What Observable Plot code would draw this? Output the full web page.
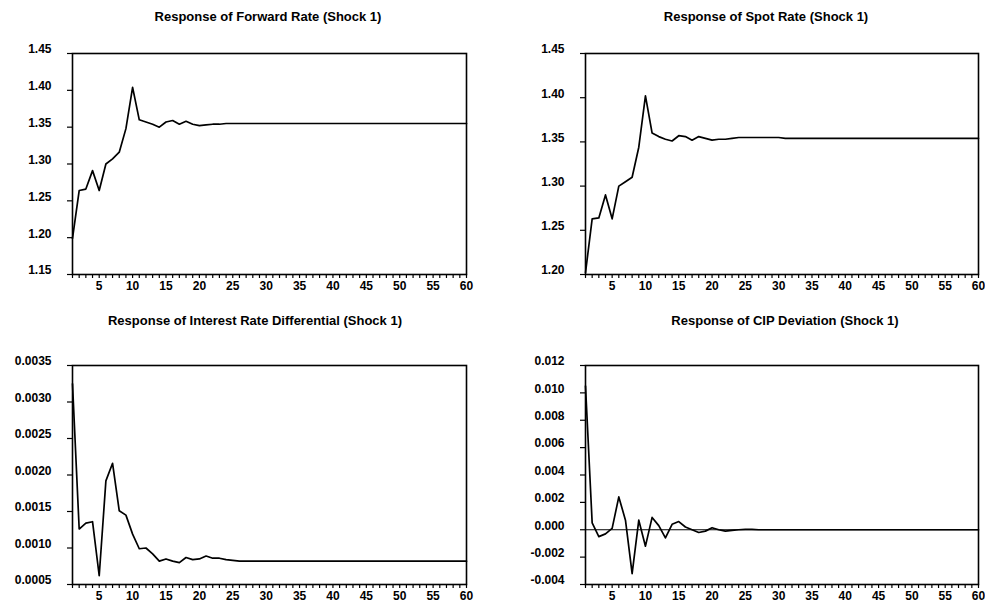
<!DOCTYPE html>
<html>
<head>
<meta charset="utf-8">
<script src="https://cdn.jsdelivr.net/npm/d3@7"></script>
<script src="https://cdn.jsdelivr.net/npm/@observablehq/plot@0.6"></script>
<style>
  html, body { margin: 0; padding: 0; background: #fff; }
  #root { position: relative; width: 985px; height: 602px; overflow: hidden; background: #fff; }
  .panel { position: absolute; }
  .title { position: absolute; width: 400px; text-align: center; font-family: "Liberation Sans", Arial, sans-serif; font-size: 13px; font-weight: bold; line-height: 16px; color: #000; white-space: nowrap; }
</style>
</head>
<body>
<div id="root"></div>
<script>
// ---- data ----
const titles = [
  "Response of Forward Rate (Shock 1)",
  "Response of Spot Rate (Shock 1)",
  "Response of Interest Rate Differential (Shock 1)",
  "Response of CIP Deviation (Shock 1)"
];

const xTickLabels = [5, 10, 15, 20, 25, 30, 35, 40, 45, 50, 55, 60];

const forwardRate = [
  1.199, 1.264, 1.266, 1.291, 1.264, 1.300, 1.307, 1.316, 1.348, 1.404,
  1.360, 1.357, 1.354, 1.350, 1.357, 1.359, 1.354, 1.358, 1.354, 1.352,
  1.353, 1.354, 1.354, 1.355, 1.355, 1.355, 1.355, 1.355, 1.355, 1.355,
  1.355, 1.355, 1.355, 1.355, 1.355, 1.355, 1.355, 1.355, 1.355, 1.355,
  1.355, 1.355, 1.355, 1.355, 1.355, 1.355, 1.355, 1.355, 1.355, 1.355,
  1.355, 1.355, 1.355, 1.355, 1.355, 1.355, 1.355, 1.355, 1.355, 1.355
];
const spotRate = [
  1.202, 1.263, 1.264, 1.290, 1.263, 1.300, 1.305, 1.310, 1.344, 1.402,
  1.360, 1.356, 1.353, 1.351, 1.357, 1.356, 1.352, 1.356, 1.354, 1.352,
  1.353, 1.353, 1.354, 1.355, 1.355, 1.355, 1.355, 1.355, 1.355, 1.355,
  1.354, 1.354, 1.354, 1.354, 1.354, 1.354, 1.354, 1.354, 1.354, 1.354,
  1.354, 1.354, 1.354, 1.354, 1.354, 1.354, 1.354, 1.354, 1.354, 1.354,
  1.354, 1.354, 1.354, 1.354, 1.354, 1.354, 1.354, 1.354, 1.354, 1.354
];
const interestDiff = [
  0.00325, 0.00126, 0.00134, 0.00136, 0.00062, 0.00192, 0.00216, 0.00151, 0.00145, 0.00119,
  0.00099, 0.00100, 0.00092, 0.00082, 0.00085, 0.00082, 0.00080, 0.00087, 0.00084, 0.00085,
  0.00089, 0.00086, 0.00086, 0.00084, 0.00083, 0.00082, 0.00082, 0.00082, 0.00082, 0.00082,
  0.00082, 0.00082, 0.00082, 0.00082, 0.00082, 0.00082, 0.00082, 0.00082, 0.00082, 0.00082,
  0.00082, 0.00082, 0.00082, 0.00082, 0.00082, 0.00082, 0.00082, 0.00082, 0.00082, 0.00082,
  0.00082, 0.00082, 0.00082, 0.00082, 0.00082, 0.00082, 0.00082, 0.00082, 0.00082, 0.00082
];
const cipDeviation = [
  0.0105, 0.0005, -0.0005, -0.0003, 0.0001, 0.0024, 0.0007, -0.0032, 0.0007, -0.0012,
  0.0009, 0.0003, -0.0006, 0.0004, 0.0006, 0.0002, 0.0000, -0.0002, -0.0001, 0.00015,
  0.0000, -0.0001, -0.00005, 0.0000, 0.00003, 0.00003, 0.0000, 0.0000, 0.0000, 0.0000,
  0.0000, 0.0000, 0.0000, 0.0000, 0.0000, 0.0000, 0.0000, 0.0000, 0.0000, 0.0000,
  0.0000, 0.0000, 0.0000, 0.0000, 0.0000, 0.0000, 0.0000, 0.0000, 0.0000, 0.0000,
  0.0000, 0.0000, 0.0000, 0.0000, 0.0000, 0.0000, 0.0000, 0.0000, 0.0000, 0.0000
];

const yTicksForward = [1.15, 1.20, 1.25, 1.30, 1.35, 1.40, 1.45];
const yTicksSpot = [1.20, 1.25, 1.30, 1.35, 1.40, 1.45];
const yTicksDiff = [0.0005, 0.0010, 0.0015, 0.0020, 0.0025, 0.0030, 0.0035];
const yTicksCip = [-0.004, -0.002, 0.000, 0.002, 0.004, 0.006, 0.008, 0.010, 0.012];

// ---- drawing ----
const root = document.getElementById("root");
const allX = d3.range(1, 61);

function fmt(spec) {
  const f = d3.format(spec);
  return v => f(v).replace("\u2212", "-");
}

function panel(cfg) {
  const data = cfg.values.map((v, i) => ({h: i + 1, v}));
  const svg = Plot.plot({
    width: cfg.w, height: cfg.h,
    marginLeft: cfg.ml, marginRight: cfg.mr, marginTop: cfg.mt, marginBottom: cfg.mb,
    x: {domain: [1, 60]},
    y: {domain: [cfg.yTicks[0], cfg.yTicks[cfg.yTicks.length - 1]]},
    style: {fontFamily: "'Liberation Sans', Arial, sans-serif", fontSize: "12px", color: "#000", background: "transparent", overflow: "visible"},
    marks: [
      Plot.axisX(allX, {tickSize: 4, tickFormat: () => "", label: null, strokeWidth: 1.2}),
      Plot.axisX(xTickLabels, {tickSize: 0, tickPadding: 7, label: null, fontWeight: "bold"}),
      Plot.axisY(cfg.yTicks, {tickSize: 5, tickFormat: () => "", label: null, strokeWidth: 1.2}),
      Plot.axisY(cfg.yTicks, {tickSize: 0, tickPadding: 21, dy: -4, tickFormat: cfg.format, label: null, fontWeight: "bold"}),
      cfg.zero ? Plot.ruleY([0], {stroke: "#000", strokeWidth: 1}) : null,
      Plot.frame({stroke: "#000", strokeWidth: 1.6}),
      Plot.line(data, {x: "h", y: "v", stroke: "#000", strokeWidth: 1.7})
    ]
  });
  svg.classList.add("panel");
  svg.style.left = cfg.left + "px";
  svg.style.top = cfg.top + "px";
  root.appendChild(svg);

  const t = document.createElement("div");
  t.className = "title";
  t.textContent = cfg.title;
  t.style.left = (cfg.tx - 200) + "px";
  t.style.top = (cfg.ty - 8) + "px";
  root.appendChild(t);
}

panel({title: titles[0], values: forwardRate, yTicks: yTicksForward, format: fmt(".2f"),
  left: 0, top: 0, w: 492, h: 301, ml: 72, mr: 26, mt: 53, mb: 27, tx: 268, ty: 17});
panel({title: titles[1], values: spotRate, yTicks: yTicksSpot, format: fmt(".2f"),
  left: 492, top: 0, w: 493, h: 301, ml: 93, mr: 7, mt: 53, mb: 27, tx: 766, ty: 17});
panel({title: titles[2], values: interestDiff, yTicks: yTicksDiff, format: fmt(".4f"),
  left: 0, top: 301, w: 492, h: 301, ml: 72, mr: 26, mt: 64, mb: 18, tx: 255, ty: 321});
panel({title: titles[3], values: cipDeviation, yTicks: yTicksCip, format: fmt(".3f"), zero: true,
  left: 492, top: 301, w: 493, h: 301, ml: 93, mr: 7, mt: 64, mb: 18, tx: 785, ty: 321});
</script>
</body>
</html>
